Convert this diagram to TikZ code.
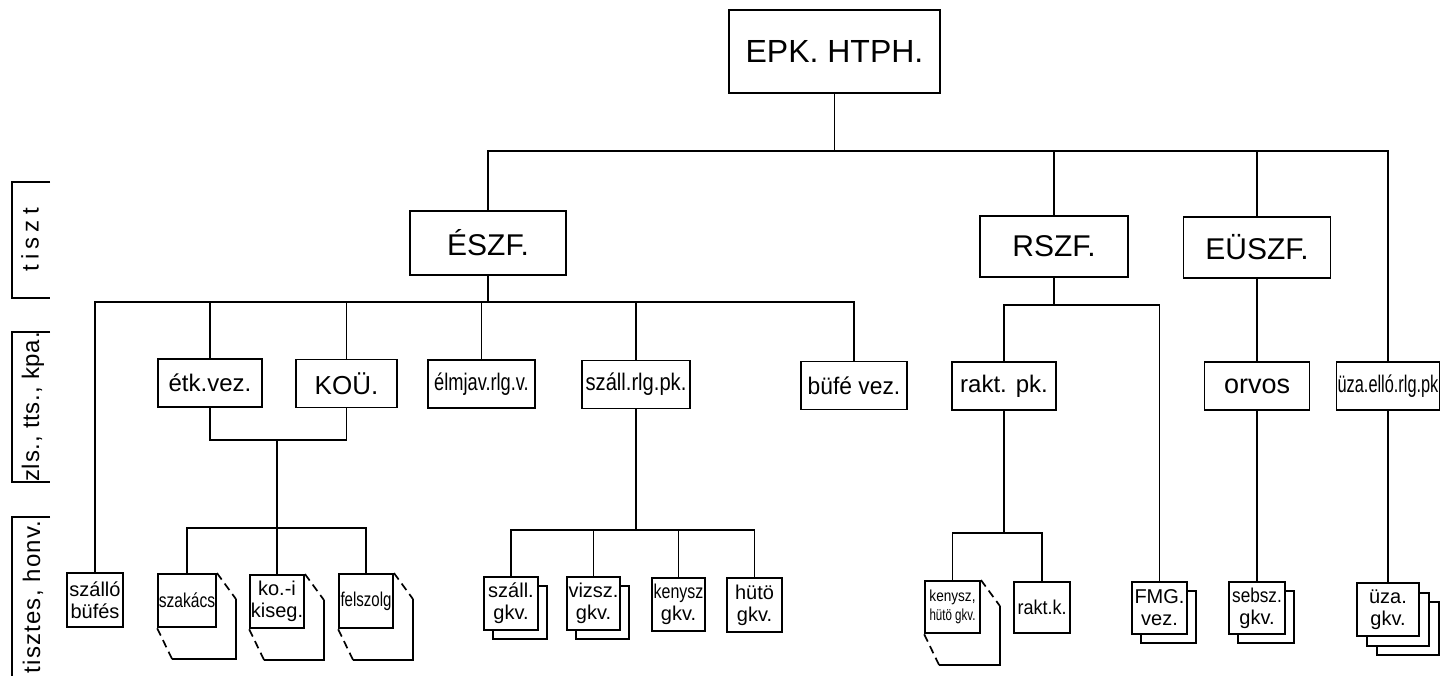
\documentclass[tikz,border=0pt]{standalone}
\usepackage{fontspec}
\setmainfont{Liberation Sans}
\usetikzlibrary{calc,shadows}
\newcommand\sq[2]{\scalebox{#1}[1]{#2}}
\begin{document}
\begin{tikzpicture}[x=1pt,y=-1pt,
  line width=1.7pt,
  box/.style={draw, line width=1.9pt, fill=white, inner sep=0pt, align=center},
  bx/.style 2 args={minimum width=#1pt, minimum height=#2pt},
  topbox/.style={box, font=\fontsize{30}{34}\selectfont},
  midbox/.style={box, font=\fontsize{24}{28}\selectfont},
  lowbox/.style={box, font=\fontsize{20}{22}\selectfont},
  side/.style={rotate=90, inner sep=0pt, font=\fontsize{24}{28}\selectfont},
  pagedash/.style={dash pattern=on 8pt off 5pt},
  shadow1/.style={copy shadow={shadow xshift=9pt, shadow yshift=-9pt}},
  shadow2/.style={copy shadow={shadow xshift=20pt, shadow yshift=-19pt},
                  copy shadow={shadow xshift=10pt, shadow yshift=-10pt}},
]
\fill[white] (0,0) rectangle (1440,675);
\useasboundingbox (0,0) rectangle (1440,675);

% bus levels
\coordinate (bus1) at (0,151);
\coordinate (bus2) at (0,302);
\coordinate (bus5) at (0,305);
\coordinate (merge) at (277,440);
\coordinate (bus3) at (0,528);
\coordinate (bus4) at (0,530);
\coordinate (bus6) at (0,533);

% side labels
\node[side] (l1) at (30,240) {\addfontfeature{LetterSpace=22}tiszt};
\node[side] (l2) at (33,407) {\addfontfeature{LetterSpace=3}zls., tts., kpa.};
\node[side] (l3) at (33,597) {\addfontfeature{LetterSpace=5}tisztes, honv.};
\draw (50,182) -- (12,182) -- (12,298) -- (50,298);
\draw (50,332) -- (12,332) -- (12,482) -- (50,482);
\draw (50,517) -- (12,517) -- (12,676);

% top level
\node[topbox, bx={211}{83}, font=\fontsize{32}{36}\selectfont] (epk) at (834.5,51.5) {EPK. HTPH.};
\node[topbox, bx={156}{64}] (eszf) at (488,243) {ÉSZF.};
\node[topbox, bx={148}{61}] (rszf) at (1054,246.5) {RSZF.};
\node[topbox, bx={147}{61}] (euszf) at (1257,247.5) {EÜSZF.};

% middle level
\node[midbox, bx={104}{48}] (etk) at (210,383) {étk.vez.};
\node[midbox, bx={101}{48}, font=\fontsize{26}{30}\selectfont] (kou) at (346.5,383.5) {KOÜ.};
\node[midbox, bx={107}{48}] (elm) at (481.5,384) {\sq{0.76}{élmjav.rlg.v.}};
\node[midbox, bx={108}{48}] (szall) at (636,384.5) {\sq{0.84}{száll.rlg.pk.}};
\node[midbox, bx={106}{48}] (bufe) at (854,385.5) {\sq{0.95}{büfé vez.}};
\node[midbox, bx={104}{48}] (raktpk) at (1004,386) {rakt. pk.};
\node[midbox, bx={105}{48}, font=\fontsize{27}{30}\selectfont] (orvos) at (1257,386) {orvos};
\node[midbox, bx={103}{48}] (uzarlg) at (1388,386) {\sq{0.68}{üza.elló.rlg.pk}};

% bottom level
\node[lowbox, bx={56}{54}] (szbufes) at (95,600) {szálló\\büfés};
\node[lowbox, bx={58}{53}] (szakacs) at (187,600.5) {\sq{0.78}{szakács}};
\node[lowbox, bx={54}{53}] (koi) at (277,601.5) {ko.-i\\kiseg.};
\node[lowbox, bx={54}{54}] (felsz) at (366,601) {\sq{0.75}{felszolg}};
\node[lowbox, bx={54}{53}, shadow1] (szallgkv) at (511,603.5) {száll.\\gkv.};
\node[lowbox, bx={53}{53}, shadow1] (vizsz) at (593.5,603.5) {vizsz.\\gkv.};
\node[lowbox, bx={53}{53}] (kenysz) at (678.5,604.5) {\sq{0.8}{kenysz}\\gkv.};
\node[lowbox, bx={55}{54}] (huto) at (754.5,605) {hütö\\gkv.};
\node[lowbox, bx={55}{52}, font=\fontsize{16}{19}\selectfont] (kenyhuto) at (952.5,607) {\sq{0.85}{kenysz,}\\\sq{0.72}{hütö gkv.}};
\node[lowbox, bx={56}{51}] (raktk) at (1042,607.5) {\sq{0.9}{rakt.k.}};
\node[lowbox, bx={55}{52}, shadow1] (fmg) at (1159.5,608) {FMG.\\vez.};
\node[lowbox, bx={56}{52}, shadow1] (sebsz) at (1257,608) {\sq{0.86}{sebsz.}\\gkv.};
\node[lowbox, bx={62}{53}, shadow2] (uzagkv) at (1388,609.5) {üza.\\gkv.};

% stacked pages (dashed perspective)
\foreach \n in {szakacs,koi,felsz,kenyhuto}{
  \draw[pagedash] (\n.north east) -- ($(\n.north east)+(19,26)$);
  \draw ($(\n.north east)+(19,26)$) |- ($(\n.south west)+(15,31)$);
  \draw[pagedash] ($(\n.south west)+(15,31)$) -- (\n.south west);
}

% connectors: top
\draw (epk.south) -- (epk.south |- bus1);
\draw (eszf.north) -- (eszf.north |- bus1) -- (uzarlg.north |- bus1) -- (uzarlg.north);
\draw (rszf.north) -- (rszf.north |- bus1);
\draw (euszf.north) -- (euszf.north |- bus1);

% ÉSZF branch
\draw (eszf.south) -- (eszf.south |- bus2);
\draw (szbufes.north) -- (szbufes.north |- bus2) -- (bufe.north |- bus2) -- (bufe.north);
\foreach \n in {etk,kou,elm,szall}{\draw (\n.north) -- (\n.north |- bus2);}
\draw (etk.south) |- (merge) -| (kou.south);
\draw (merge) -- (koi.north);
\draw (szakacs.north) -- (szakacs.north |- bus3) -- (felsz.north |- bus3) -- (felsz.north);
\draw (szall.south) -- (szall.south |- bus4);
\draw (szallgkv.north) -- (szallgkv.north |- bus4) -- (huto.north |- bus4) -- (huto.north);
\draw (vizsz.north) -- (vizsz.north |- bus4);
\draw (kenysz.north) -- (kenysz.north |- bus4);

% RSZF branch
\draw (rszf.south) -- (rszf.south |- bus5);
\draw (raktpk.north) -- (raktpk.north |- bus5) -- (fmg.north |- bus5) -- (fmg.north);
\draw (raktpk.south) -- (raktpk.south |- bus6);
\draw (kenyhuto.north) -- (kenyhuto.north |- bus6) -- (raktk.north |- bus6) -- (raktk.north);

% EÜSZF branch
\draw (euszf.south) -- (orvos.north);
\draw (orvos.south) -- (sebsz.north);
\draw (uzarlg.south) -- (uzagkv.north);
\end{tikzpicture}
\end{document}
